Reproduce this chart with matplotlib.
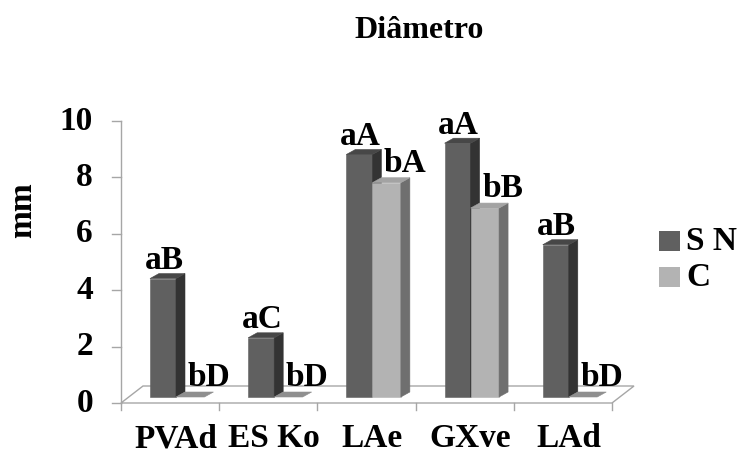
import matplotlib.pyplot as plt
from matplotlib.patches import Polygon, Rectangle

plt.rcParams['font.family'] = ['Liberation Serif', 'DejaVu Serif']
plt.rcParams['font.weight'] = 'bold'

categories = ['PVAd', 'ES Ko', 'LAe', 'GXve', 'LAd']
sn_values = [4.2, 2.1, 8.6, 9.0, 5.4]
c_values = [0.0, 0.0, 7.6, 6.7, 0.0]
sn_labels = ['aB', 'aC', 'aA', 'aA', 'aB']
c_labels = ['bD', 'bD', 'bA', 'bB', 'bD']
yticks = [0, 2, 4, 6, 8, 10]
series_names = ['S N', 'C']

W, H = 739, 454
# front plane of the 3D box in pixels: x 121..612 (5 categories), y 403 (0) .. 121 (10)
X0, CAT = 121, 98.2
Y0, UNIT = 403, 28.2

fig = plt.figure(figsize=(W / 100, H / 100), dpi=100)
ax = fig.add_axes([0, 0, 1, 1])
ax.set_xlim(-X0 / CAT, (W - X0) / CAT)
ax.set_ylim(-(H - Y0) / UNIT, Y0 / UNIT)
ax.axis('off')

# depth offsets (data units)
floor_dx, floor_dy = 22 / CAT, 17 / UNIT
bar_dx, bar_dy = 9 / CAT, 5 / UNIT
face_dx, face_dy = 0.0, 6 / UNIT   # bar front face sits a little behind the front edge

grid_col = '#a6a6a6'
n = len(categories)
fs = 24

# floor
ax.add_patch(Polygon([(0, 0), (n, 0), (n + floor_dx, floor_dy), (floor_dx, floor_dy)],
                     closed=True, facecolor='white', edgecolor=grid_col, lw=1.0, zorder=1))
# value axis and ticks
ax.plot([0, 0], [0, 10], color=grid_col, lw=1.0, zorder=1)
for t in yticks:
    ax.plot([-9 / CAT, 0], [t, t], color=grid_col, lw=1.0, zorder=1)
    ax.text(-28 / CAT, t, str(t), ha='right', va='center', fontsize=fs, fontweight='bold')
for i in range(n + 1):
    ax.plot([i, i], [0, -7 / UNIT], color=grid_col, lw=1.0, zorder=1)

ax.text(-98 / CAT, 6.85, 'mm', rotation=90, ha='center', va='center',
        fontsize=fs, fontweight='bold')


def bar3d(x, w, v, front, side, top):
    y0 = face_dy
    y1 = face_dy + v
    xl = x + face_dx
    xr = xl + w
    if v > 0:
        ax.add_patch(Polygon([(xl, y0), (xr, y0), (xr, y1), (xl, y1)], closed=True,
                             facecolor=front, edgecolor=front, lw=0.4, zorder=3))
        ax.add_patch(Polygon([(xr, y0), (xr + bar_dx, y0 + bar_dy), (xr + bar_dx, y1 + bar_dy),
                              (xr, y1)], closed=True,
                             facecolor=side, edgecolor=side, lw=0.4, zorder=3))
    ax.add_patch(Polygon([(xl, y1), (xr, y1), (xr + bar_dx, y1 + bar_dy), (xl + bar_dx, y1 + bar_dy)],
                         closed=True, facecolor=top, edgecolor=top, lw=0.4, zorder=3))


sn_w, c_w = 0.265, 0.29
for i in range(n):
    xs = i + 0.295
    xc = xs + sn_w
    bar3d(xs, sn_w, sn_values[i], '#606060', '#333333', '#474747')
    bar3d(xc, c_w, c_values[i], '#b3b3b3', '#6f6f6f', '#8f8f8f' if c_values[i] == 0 else '#a3a3a3')
    ax.text(xs + sn_w / 2 + 0.01, sn_values[i] + face_dy + 0.33, sn_labels[i],
            ha='center', va='baseline', fontsize=fs, fontweight='bold', zorder=5)
    ax.text(xc + c_w / 2 + 0.19, c_values[i] + face_dy + 0.38, c_labels[i],
            ha='center', va='baseline', fontsize=fs, fontweight='bold', zorder=5)
    ax.text(i + 0.56, -44 / UNIT, categories[i], ha='center', va='baseline',
            fontsize=fs, fontweight='bold')

# legend
for k, (name, col) in enumerate(zip(series_names, ['#606060', '#b3b3b3'])):
    yc = (Y0 - (241 + 36 * k)) / UNIT
    ax.add_patch(Rectangle(((659 - X0) / CAT, yc - 10 / UNIT), 21 / CAT, 20 / UNIT,
                           facecolor=col, edgecolor='none'))
    ax.text((686 - X0) / CAT, yc, name, ha='left', va='center', fontsize=fs, fontweight='bold')

ax.text((419 - X0) / CAT, (Y0 - 30) / UNIT, 'Diâmetro', ha='center', va='center',
        fontsize=23, fontweight='bold')

fig.savefig('out.png', dpi=100)
